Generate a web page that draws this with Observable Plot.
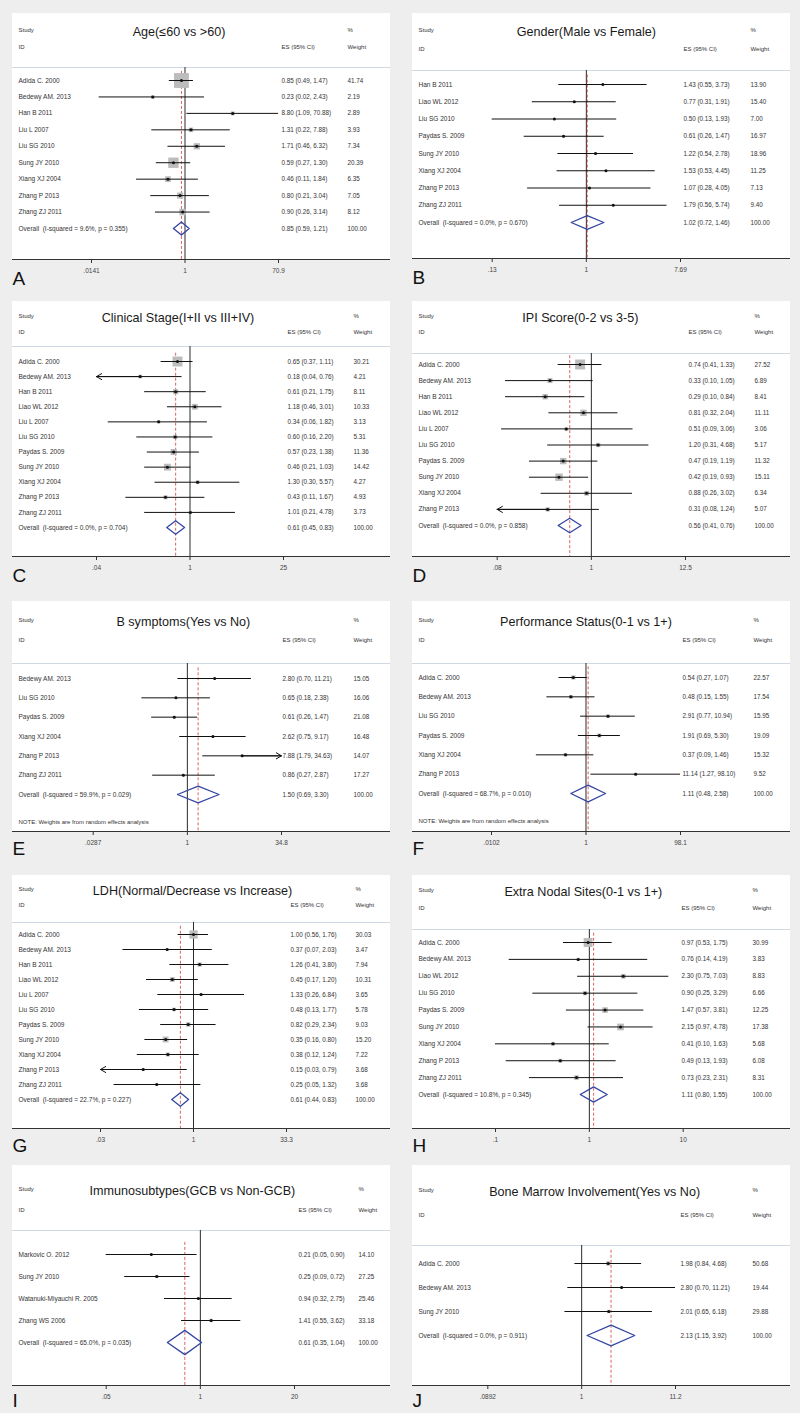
<!DOCTYPE html>
<html><head><meta charset="utf-8">
<script src="https://cdn.jsdelivr.net/npm/d3@7"></script>
<script src="https://cdn.jsdelivr.net/npm/@observablehq/plot@0.6"></script>
<style>
body{margin:0;background:#eeeeee;}
#root{position:relative;width:800px;height:1413px;background:#eeeeee;overflow:hidden;font-family:"Liberation Sans",Arial,sans-serif;}
.box{position:absolute;background:#ffffff;}
.panel{position:absolute;}
</style></head><body><div id="root"></div>
<script>
// ---------- DATA ----------
const ageStudies = ["Adida C. 2000","Bedewy AM. 2013","Han B 2011","Liu L 2007","Liu SG 2010","Sung JY 2010","Xiang XJ 2004","Zhang P 2013","Zhang ZJ 2011"];
const ageES     = [0.85,0.23,8.80,1.31,1.71,0.59,0.46,0.80,0.90];
const ageLow    = [0.49,0.02,1.09,0.22,0.46,0.27,0.11,0.21,0.26];
const ageHigh   = [1.47,2.43,70.88,7.88,6.32,1.30,1.84,3.04,3.14];
const ageWeight = [41.74,2.19,2.89,3.93,7.34,20.39,6.35,7.05,8.12];
const ageOverall = [0.85,0.59,1.21];
const ageHet = ["9.6%","0.355"];
const ageTicks = [0.0141,1,70.9];
const ageTickLabels = [".0141","1","70.9"];
const ageArrows = [];

const genderStudies = ["Han B 2011","Liao WL 2012","Liu SG 2010","Paydas S. 2009","Sung JY 2010","Xiang XJ 2004","Zhang P 2013","Zhang ZJ 2011"];
const genderES     = [1.43,0.77,0.50,0.61,1.22,1.53,1.07,1.79];
const genderLow    = [0.55,0.31,0.13,0.26,0.54,0.53,0.28,0.56];
const genderHigh   = [3.73,1.91,1.93,1.47,2.78,4.45,4.05,5.74];
const genderWeight = [13.90,15.40,7.00,16.97,18.96,11.25,7.13,9.40];
const genderOverall = [1.02,0.72,1.46];
const genderHet = ["0.0%","0.670"];
const genderTicks = [0.13,1,7.69];
const genderTickLabels = [".13","1","7.69"];
const genderArrows = [];

const stageStudies = ["Adida C. 2000","Bedewy AM. 2013","Han B 2011","Liao WL 2012","Liu L 2007","Liu SG 2010","Paydas S. 2009","Sung JY 2010","Xiang XJ 2004","Zhang P 2013","Zhang ZJ 2011"];
const stageES     = [0.65,0.18,0.61,1.18,0.34,0.60,0.57,0.46,1.30,0.43,1.01];
const stageLow    = [0.37,0.04,0.21,0.46,0.06,0.16,0.23,0.21,0.30,0.11,0.21];
const stageHigh   = [1.11,0.76,1.75,3.01,1.82,2.20,1.38,1.03,5.57,1.67,4.78];
const stageWeight = [30.21,4.21,8.11,10.33,3.13,5.31,11.36,14.42,4.27,4.93,3.73];
const stageOverall = [0.61,0.45,0.83];
const stageHet = ["0.0%","0.704"];
const stageTicks = [0.04,1,25];
const stageTickLabels = [".04","1","25"];
const stageArrows = [["Bedewy AM. 2013","left"]];

const ipiStudies = ["Adida C. 2000","Bedewy AM. 2013","Han B 2011","Liao WL 2012","Liu L 2007","Liu SG 2010","Paydas S. 2009","Sung JY 2010","Xiang XJ 2004","Zhang P 2013"];
const ipiES     = [0.74,0.33,0.29,0.81,0.51,1.20,0.47,0.42,0.88,0.31];
const ipiLow    = [0.41,0.10,0.10,0.32,0.09,0.31,0.19,0.19,0.26,0.08];
const ipiHigh   = [1.33,1.05,0.84,2.04,3.06,4.68,1.19,0.93,3.02,1.24];
const ipiWeight = [27.52,6.89,8.41,11.11,3.06,5.17,11.32,15.11,6.34,5.07];
const ipiOverall = [0.56,0.41,0.76];
const ipiHet = ["0.0%","0.858"];
const ipiTicks = [0.08,1,12.5];
const ipiTickLabels = [".08","1","12.5"];
const ipiArrows = [["Zhang P 2013","left"]];

const bsympStudies = ["Bedewy AM. 2013","Liu SG 2010","Paydas S. 2009","Xiang XJ 2004","Zhang P 2013","Zhang ZJ 2011"];
const bsympES     = [2.80,0.65,0.61,2.62,7.88,0.86];
const bsympLow    = [0.70,0.18,0.26,0.75,1.79,0.27];
const bsympHigh   = [11.21,2.38,1.47,9.17,34.63,2.87];
const bsympWeight = [15.05,16.06,21.08,16.48,14.07,17.27];
const bsympOverall = [1.50,0.69,3.30];
const bsympHet = ["59.9%","0.029"];
const bsympTicks = [0.0287,1,34.8];
const bsympTickLabels = [".0287","1","34.8"];
const bsympArrows = [["Zhang P 2013","right"]];

const psStudies = ["Adida C. 2000","Bedewy AM. 2013","Liu SG 2010","Paydas S. 2009","Xiang XJ 2004","Zhang P 2013"];
const psES     = [0.54,0.48,2.91,1.91,0.37,11.14];
const psLow    = [0.27,0.15,0.77,0.69,0.09,1.27];
const psHigh   = [1.07,1.55,10.94,5.30,1.46,98.10];
const psWeight = [22.57,17.54,15.95,19.09,15.32,9.52];
const psOverall = [1.11,0.48,2.58];
const psHet = ["68.7%","0.010"];
const psTicks = [0.0102,1,98.1];
const psTickLabels = [".0102","1","98.1"];
const psArrows = [];

const ldhStudies = ["Adida C. 2000","Bedewy AM. 2013","Han B 2011","Liao WL 2012","Liu L 2007","Liu SG 2010","Paydas S. 2009","Sung JY 2010","Xiang XJ 2004","Zhang P 2013","Zhang ZJ 2011"];
const ldhES     = [1.00,0.37,1.26,0.45,1.33,0.48,0.82,0.35,0.38,0.15,0.25];
const ldhLow    = [0.56,0.07,0.41,0.17,0.26,0.13,0.29,0.16,0.12,0.03,0.05];
const ldhHigh   = [1.76,2.03,3.80,1.20,6.84,1.77,2.34,0.80,1.24,0.79,1.32];
const ldhWeight = [30.03,3.47,7.94,10.31,3.65,5.78,9.03,15.20,7.22,3.68,3.68];
const ldhOverall = [0.61,0.44,0.83];
const ldhHet = ["22.7%","0.227"];
const ldhTicks = [0.03,1,33.3];
const ldhTickLabels = [".03","1","33.3"];
const ldhArrows = [["Zhang P 2013","left"]];

const ensStudies = ["Adida C. 2000","Bedewy AM. 2013","Liao WL 2012","Liu SG 2010","Paydas S. 2009","Sung JY 2010","Xiang XJ 2004","Zhang P 2013","Zhang ZJ 2011"];
const ensES     = [0.97,0.76,2.30,0.90,1.47,2.15,0.41,0.49,0.73];
const ensLow    = [0.53,0.14,0.75,0.25,0.57,0.97,0.10,0.13,0.23];
const ensHigh   = [1.75,4.19,7.03,3.29,3.81,4.78,1.63,1.93,2.31];
const ensWeight = [30.99,3.83,8.83,6.66,12.25,17.38,5.68,6.08,8.31];
const ensOverall = [1.11,0.80,1.55];
const ensHet = ["10.8%","0.345"];
const ensTicks = [0.1,1,10];
const ensTickLabels = [".1","1","10"];
const ensArrows = [];

const immStudies = ["Markovic O. 2012","Sung JY 2010","Watanuki-Miyauchi R. 2005","Zhang WS 2006"];
const immES     = [0.21,0.25,0.94,1.41];
const immLow    = [0.05,0.09,0.32,0.55];
const immHigh   = [0.90,0.72,2.75,3.62];
const immWeight = [14.10,27.25,25.46,33.18];
const immOverall = [0.61,0.35,1.04];
const immHet = ["65.0%","0.035"];
const immTicks = [0.05,1,20];
const immTickLabels = [".05","1","20"];
const immArrows = [];

const bmStudies = ["Adida C. 2000","Bedewy AM. 2013","Sung JY 2010"];
const bmES     = [1.98,2.80,2.01];
const bmLow    = [0.84,0.70,0.65];
const bmHigh   = [4.68,11.21,6.18];
const bmWeight = [50.68,19.44,29.88];
const bmOverall = [2.13,1.15,3.92];
const bmHet = ["0.0%","0.911"];
const bmTicks = [0.0892,1,11.2];
const bmTickLabels = [".0892","1","11.2"];
const bmArrows = [];

const panelTitles = ["Age(≤60 vs >60)","Gender(Male vs Female)","Clinical Stage(I+II vs III+IV)","IPI Score(0-2 vs 3-5)","B symptoms(Yes vs No)","Performance Status(0-1 vs 1+)","LDH(Normal/Decrease vs Increase)","Extra Nodal Sites(0-1 vs 1+)","Immunosubtypes(GCB vs Non-GCB)","Bone Marrow Involvement(Yes vs No)"];
const panelLetters = ["A","B","C","D","E","F","G","H","I","J"];
const noteText = "NOTE: Weights are from random effects analysis";

// ---------- LAYOUT (pixels) ----------
const layouts = [
 {col:0, boxTop:13,  study:30,  id:47,  sep:67,  first:80,  last:228,  axis:259,  xLo:91,   xHi:278,   esX:281, wX:347, titleDx:-6,  k:2.3, dh:0.4,  letterDy:19},
 {col:1, boxTop:13,  study:30,  id:49,  sep:70,  first:84,  last:222,  axis:258,  xLo:91.7, xHi:280,   esX:283, wX:350, titleDx:0,   k:0.6, dh:0.4,  letterDy:19},
 {col:0, boxTop:301, study:316, id:332, sep:346, first:361, last:527,  axis:556,  xLo:96,   xHi:283,   esX:287, wX:353, titleDx:-12, k:1.8, dh:0.45, letterDy:19},
 {col:1, boxTop:301, study:316, id:332, sep:353, first:364, last:525,  axis:556,  xLo:96.7, xHi:285,   esX:288, wX:354, titleDx:-11, k:1.9, dh:0.45, letterDy:19},
 {col:0, boxTop:601, study:620, id:640, sep:663, first:678, last:794,  axis:831,  xLo:92.7, xHi:281,   esX:282, wX:353, titleDx:-4,  k:0.6, dh:0.43, note:822, letterDy:17},
 {col:1, boxTop:601, study:620, id:640, sep:663, first:677, last:793,  axis:831,  xLo:91,   xHi:280,   esX:282, wX:353, titleDx:0,   k:0.9, dh:0.43, note:821, letterDy:17},
 {col:0, boxTop:875, study:889, id:905, sep:922, first:934, last:1099, axis:1128, xLo:100,  xHi:286,   esX:290, wX:355, titleDx:-1,  k:1.5, dh:0.45, letterDy:17},
 {col:1, boxTop:875, study:890, id:908, sep:929, first:942, last:1094, axis:1128, xLo:95,   xHi:282.7, esX:281, wX:352, titleDx:-6,  k:1.6, dh:0.45, letterDy:17},
 {col:0, boxTop:1165,study:1189,id:1210,sep:1230,first:1254,last:1342, axis:1385, xLo:105.7,xHi:294,   esX:298, wX:358, titleDx:-8,  k:0.6, dh:0.55, letterDy:15},
 {col:1, boxTop:1165,study:1190,id:1215,sep:1245,first:1263,last:1335, axis:1385, xLo:87.3, xHi:275,   esX:280, wX:352, titleDx:13,  k:0.6, dh:0.43, letterDy:15}
];

const panels = [
 [ageStudies,ageES,ageLow,ageHigh,ageWeight,ageOverall,ageHet,ageTicks,ageTickLabels,ageArrows,false],
 [genderStudies,genderES,genderLow,genderHigh,genderWeight,genderOverall,genderHet,genderTicks,genderTickLabels,genderArrows,false],
 [stageStudies,stageES,stageLow,stageHigh,stageWeight,stageOverall,stageHet,stageTicks,stageTickLabels,stageArrows,false],
 [ipiStudies,ipiES,ipiLow,ipiHigh,ipiWeight,ipiOverall,ipiHet,ipiTicks,ipiTickLabels,ipiArrows,false],
 [bsympStudies,bsympES,bsympLow,bsympHigh,bsympWeight,bsympOverall,bsympHet,bsympTicks,bsympTickLabels,bsympArrows,true],
 [psStudies,psES,psLow,psHigh,psWeight,psOverall,psHet,psTicks,psTickLabels,psArrows,true],
 [ldhStudies,ldhES,ldhLow,ldhHigh,ldhWeight,ldhOverall,ldhHet,ldhTicks,ldhTickLabels,ldhArrows,false],
 [ensStudies,ensES,ensLow,ensHigh,ensWeight,ensOverall,ensHet,ensTicks,ensTickLabels,ensArrows,false],
 [immStudies,immES,immLow,immHigh,immWeight,immOverall,immHet,immTicks,immTickLabels,immArrows,false],
 [bmStudies,bmES,bmLow,bmHigh,bmWeight,bmOverall,bmHet,bmTicks,bmTickLabels,bmArrows,false]
].map((a,i)=>({studies:a[0],es:a[1],low:a[2],high:a[3],weight:a[4],overall:a[5],het:a[6],ticks:a[7],tickLabels:a[8],arrows:a[9],note:a[10],title:panelTitles[i],letter:panelLetters[i]}));

const FONT = "'Liberation Sans', Arial, Helvetica, sans-serif";
const f2 = v => v.toFixed(2);

function forest(d, L) {
  const n = d.studies.length;
  const rows = d.studies.map((s,i)=>({label:s, es:d.es[i], lo:d.low[i], hi:d.high[i], w:d.weight[i], i}));
  const overall = {label:`Overall  (I-squared = ${d.het[0]}, p = ${d.het[1]})`, es:d.overall[0], lo:d.overall[1], hi:d.overall[2], w:100, i:n};
  const all = [...rows, overall];
  const step = (L.last - L.first) / n;
  const axisIdx = (L.axis - L.first) / step;
  const domLo = d.ticks[0], domHi = d.ticks[d.ticks.length-1];
  const diamond = [
    {x:overall.lo, y:n}, {x:overall.es, y:n - L.dh}, {x:overall.hi, y:n},
    {x:overall.es, y:n + L.dh}, {x:overall.lo, y:n}
  ];
  const arrowRows = d.arrows.map(([name, side]) => {
    const r = rows.find(r => r.label === name);
    return {i:r.i, from:r.es, to: side === "left" ? domLo : domHi};
  });
  const tickData = d.ticks.map((v,i)=>({v, label:d.tickLabels[i]}));
  const textBase = {fontFamily:FONT, fill:"#333", textAnchor:"start", lineAnchor:"middle"};
  const marks = [
    Plot.ruleY([0], {y: () => -(L.first - L.sep)/step, stroke:"#cfd9e3", strokeWidth:1}),
    Plot.ruleY([0], {y: () => axisIdx, stroke:"#333", strokeWidth:1}),
    Plot.ruleX([1], {stroke:"#2a2a2a", strokeWidth:1}),
    Plot.ruleX([overall.es], {y1: -0.55, y2: axisIdx, stroke:"#d23b3b", strokeWidth:0.8, strokeDasharray:"3,2"}),
    Plot.dot(rows, {x:"es", y:"i", symbol:"square", r: r => L.k*Math.sqrt(r.w)/Math.sqrt(Math.PI), fill:"#bcbcbc"}),
    Plot.ruleY(rows, {y:"i", x1:"lo", x2:"hi", stroke:"#111", strokeWidth:1}),
    Plot.arrow(arrowRows, {x1:"from", x2:"to", y1:"i", y2:"i", stroke:"#111", strokeWidth:1, headLength:9, bend:0}),
    Plot.dot(rows, {x:"es", y:"i", r:1.5, fill:"#111"}),
    Plot.line(diamond, {x:"x", y:"y", stroke:"#3446a3", strokeWidth:1.3}),
    Plot.ruleX(tickData, {x:"v", y1: axisIdx, y2: axisIdx + 4/step, stroke:"#333", strokeWidth:1}),
    Plot.text(tickData, {x:"v", text:"label", frameAnchor:"bottom", lineAnchor:"middle", dy:11, fontSize:6.5, fill:"#444", fontFamily:FONT}),
    Plot.text(all, {...textBase, y:"i", text:"label", frameAnchor:"left", dx:6, fontSize:6.5}),
    Plot.text(all, {...textBase, y:"i", text: r => `${f2(r.es)} (${f2(r.lo)}, ${f2(r.hi)})`, frameAnchor:"left", dx:L.esX - 12, fontSize:6.3}),
    Plot.text(all, {...textBase, y:"i", text: r => f2(r.w), frameAnchor:"left", dx:L.wX - 12, fontSize:6.3}),
    Plot.text(["Study"], {...textBase, text:t=>t, frameAnchor:"top-left", dx:6, dy:L.study - L.sep, fontSize:6}),
    Plot.text(["ID"], {...textBase, text:t=>t, frameAnchor:"top-left", dx:6, dy:L.id - L.sep, fontSize:6}),
    Plot.text(["ES (95% CI)"], {...textBase, text:t=>t, frameAnchor:"top-left", dx:L.esX - 12, dy:L.id - L.sep, fontSize:6}),
    Plot.text(["%"], {...textBase, text:t=>t, frameAnchor:"top-left", dx:L.wX - 12, dy:L.study - L.sep, fontSize:6}),
    Plot.text(["Weight"], {...textBase, text:t=>t, frameAnchor:"top-left", dx:L.wX - 12, dy:L.id - L.sep, fontSize:6}),
    Plot.text([{t:d.title, x:1}], {x:"x", text:"t", frameAnchor:"top", lineAnchor:"middle", dy:L.study + 1 - L.sep, dx:L.titleDx, fontSize:12.6, fill:"#1a1a1a", textAnchor:"middle", fontFamily:FONT}),
    Plot.text([d.letter], {...textBase, text:t=>t, frameAnchor:"bottom-left", dy:L.letterDy, dx:0, fontSize:19, fill:"#111"})
  ];
  if (d.note) {
    marks.push(Plot.text([noteText], {...textBase, text:t=>t, frameAnchor:"bottom-left", dx:6, dy:L.note - L.axis, fontSize:6}));
  }
  return Plot.plot({
    width:400,
    height: L.axis - L.boxTop + 30,
    marginLeft:12, marginRight:10,
    marginTop: L.sep - L.boxTop, marginBottom:30,
    x:{type:"log", domain:[domLo, domHi], range:[L.xLo, L.xHi], clamp:true, axis:null},
    y:{type:"linear", domain:[0, n], range:[L.first - L.boxTop, L.last - L.boxTop], axis:null},
    r:{type:"identity"},
    style:{background:"transparent", fontFamily:FONT, overflow:"visible"},
    marks
  });
}

const root = document.getElementById("root");
panels.forEach((d, i) => {
  const L = layouts[i];
  const box = document.createElement("div");
  box.className = "box";
  box.style.left = (L.col*400 + 12) + "px";
  box.style.top = L.boxTop + "px";
  box.style.width = "378px";
  box.style.height = (L.axis - L.boxTop) + "px";
  root.appendChild(box);
  const wrap = document.createElement("div");
  wrap.className = "panel";
  wrap.style.left = (L.col*400) + "px";
  wrap.style.top = L.boxTop + "px";
  wrap.appendChild(forest(d, L));
  root.appendChild(wrap);
});
</script>
</body></html>
